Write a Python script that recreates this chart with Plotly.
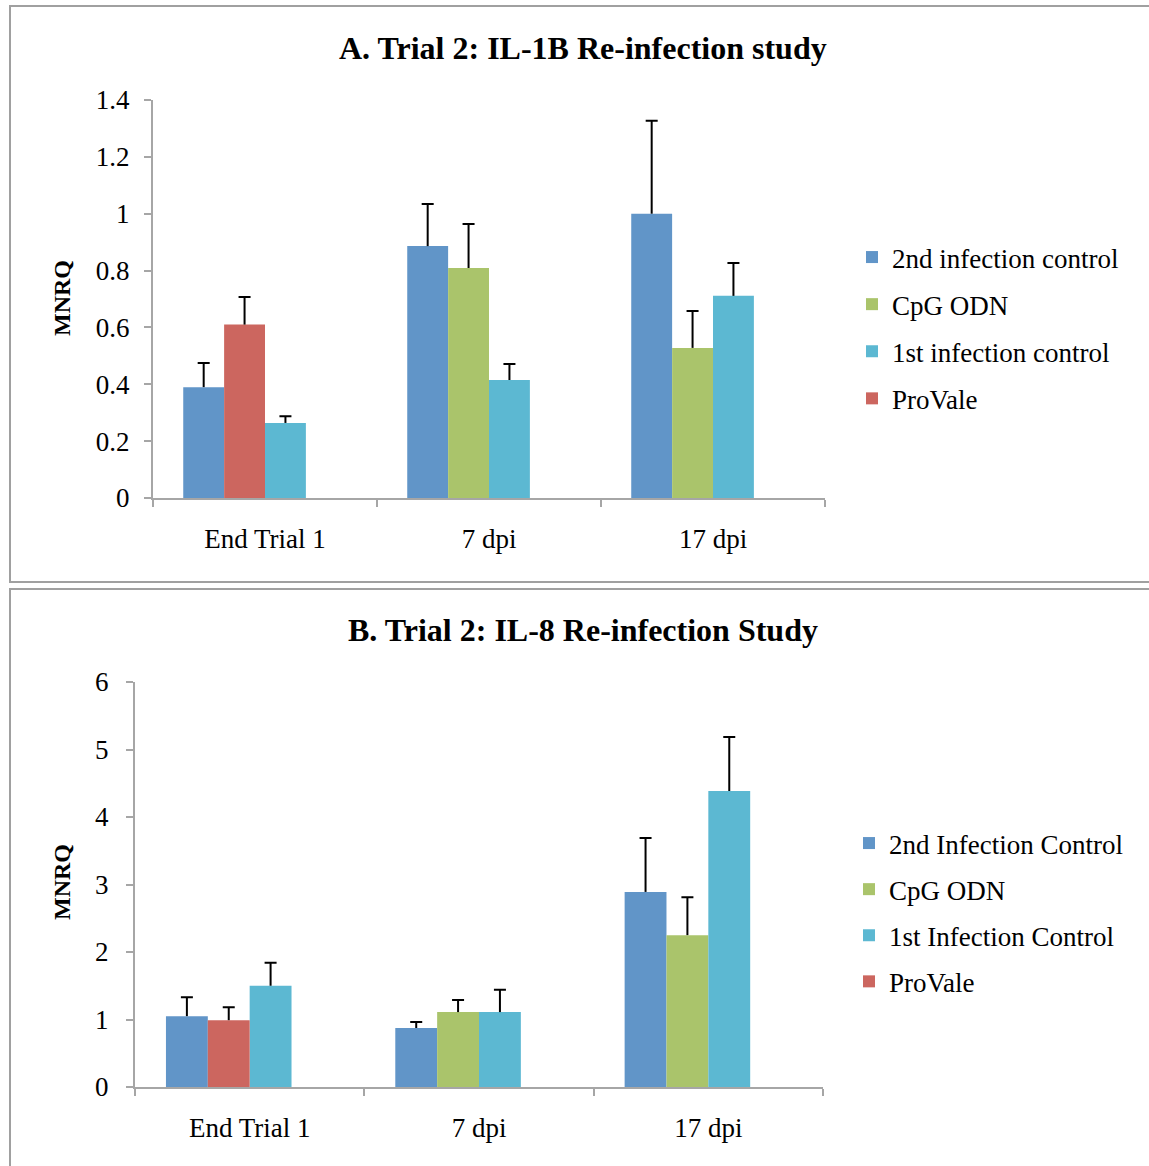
import plotly.graph_objects as go

W, H = 1149, 1166

categories = ["End Trial 1", "7 dpi", "17 dpi"]

# Panel A: IL-1B
a_names = ["2nd infection control", "CpG ODN", "1st infection control", "ProVale"]
a_second = [0.39, 0.886, 1.0]
a_second_err = [0.085, 0.148, 0.327]
a_cpg = [None, 0.809, 0.528]
a_cpg_err = [0, 0.155, 0.13]
a_first = [0.264, 0.415, 0.711]
a_first_err = [0.024, 0.056, 0.116]
a_provale = [0.61, None, None]
a_provale_err = [0.097, 0, 0]

# Panel B: IL-8
b_names = ["2nd Infection Control", "CpG ODN", "1st Infection Control", "ProVale"]
b_second = [1.05, 0.874, 2.89]
b_second_err = [0.28, 0.09, 0.80]
b_cpg = [None, 1.11, 2.25]
b_cpg_err = [0, 0.18, 0.56]
b_first = [1.50, 1.11, 4.385]
b_first_err = [0.34, 0.33, 0.80]
b_provale = [0.99, None, None]
b_provale_err = [0.19, 0, 0]

colors = ["#6195c8", "#aac46b", "#5cb8d2", "#cc665f"]
offsets = ["g1", "g2", "g3", "g2"]

FONT = "Liberation Serif"
GRAY = "#a6a6a6"
TXT = 27

fig = go.Figure()


def add_panel(names, vals, errs, xa, ya, legend):
    for i, (nm, v, e) in enumerate(zip(names, vals, errs)):
        fig.add_trace(go.Bar(
            x=categories, y=v, name=nm, xaxis=xa, yaxis=ya, legend=legend,
            legendgroup=legend + str(i), offsetgroup=offsets[i],
            marker=dict(color=colors[i], line=dict(width=0)),
            error_y=dict(type="data", symmetric=False, array=e,
                         arrayminus=[0] * len(e), width=0, thickness=2,
                         color="black"),
        ))
        tops = [None if a is None else a + b for a, b in zip(v, e)]
        fig.add_trace(go.Bar(
            x=categories, y=tops, xaxis=xa, yaxis=ya, showlegend=False,
            offsetgroup=offsets[i], hoverinfo="skip",
            marker=dict(color="rgba(0,0,0,0)", line=dict(width=0)),
            error_y=dict(type="data", array=[0] * len(e), width=6,
                         thickness=2, color="black"),
        ))
    # empty fourth slot, as in the original chart's layout
    fig.add_trace(go.Bar(
        x=categories, y=[0] * len(categories), xaxis=xa, yaxis=ya,
        showlegend=False, offsetgroup="g4", hoverinfo="skip",
        marker=dict(color="rgba(0,0,0,0)", line=dict(width=0)),
    ))


add_panel(a_names, [a_second, a_cpg, a_first, a_provale],
          [a_second_err, a_cpg_err, a_first_err, a_provale_err], "x", "y", "legend")
add_panel(b_names, [b_second, b_cpg, b_first, b_provale],
          [b_second_err, b_cpg_err, b_first_err, b_provale_err], "x2", "y2", "legend2")


def px_x(p):
    return p / W


def px_y(p):
    return 1 - p / H


axis_common = dict(showline=True, linecolor=GRAY, linewidth=2, ticks="outside",
                   tickcolor=GRAY, tickwidth=2, ticklen=7, showgrid=False,
                   zeroline=False, automargin=False,
                   tickfont=dict(family=FONT, size=TXT, color="black"))

fig.update_layout(
    width=W, height=H, margin=dict(l=0, r=0, t=0, b=0, autoexpand=False),
    paper_bgcolor="white", plot_bgcolor="white",
    barmode="group", bargap=0.27, bargroupgap=0,
    font=dict(family=FONT, color="black"),
    xaxis=dict(domain=[px_x(153), px_x(825)], anchor="y", tickson="boundaries",
               ticklabelstandoff=16, **axis_common),
    yaxis=dict(domain=[px_y(498), px_y(100)], anchor="x", range=[0, 1.4],
               dtick=0.2, ticklabelstandoff=9, **axis_common),
    xaxis2=dict(domain=[px_x(135), px_x(823)], anchor="y2", tickson="boundaries",
                ticklabelstandoff=16, **axis_common),
    yaxis2=dict(domain=[px_y(1087), px_y(682)], anchor="x2", range=[0, 6],
                dtick=1, ticklabelstandoff=12, **axis_common),
    legend=dict(x=px_x(852), y=px_y(233), xanchor="left", yanchor="top",
                font=dict(family=FONT, size=TXT), tracegroupgap=9,
                bgcolor="rgba(0,0,0,0)"),
    legend2=dict(x=px_x(849), y=px_y(819), xanchor="left", yanchor="top",
                 font=dict(family=FONT, size=TXT), tracegroupgap=8,
                 bgcolor="rgba(0,0,0,0)"),
    showlegend=True,
)

fig.add_annotation(text="<b>A. Trial 2: IL-1B Re-infection study</b>", xref="paper",
                   yref="paper", x=px_x(583), y=px_y(48), showarrow=False,
                   xanchor="center", yanchor="middle",
                   font=dict(family=FONT, size=32))
fig.add_annotation(text="<b>B. Trial 2: IL-8 Re-infection Study</b>", xref="paper",
                   yref="paper", x=px_x(583), y=px_y(630), showarrow=False,
                   xanchor="center", yanchor="middle",
                   font=dict(family=FONT, size=32))
fig.add_annotation(text="<b>MNRQ</b>", xref="paper", yref="paper", x=px_x(62),
                   y=px_y(298), showarrow=False, textangle=-90,
                   xanchor="center", yanchor="middle",
                   font=dict(family=FONT, size=24))
fig.add_annotation(text="<b>MNRQ</b>", xref="paper", yref="paper", x=px_x(62),
                   y=px_y(882), showarrow=False, textangle=-90,
                   xanchor="center", yanchor="middle",
                   font=dict(family=FONT, size=24))

fig.add_shape(type="rect", xref="paper", yref="paper", x0=px_x(10), x1=1.01,
              y0=px_y(582), y1=px_y(6), line=dict(color="#a0a0a0", width=2))
fig.add_shape(type="rect", xref="paper", yref="paper", x0=px_x(10), x1=1.01,
              y0=-0.01, y1=px_y(589), line=dict(color="#a0a0a0", width=2))

fig.write_html("out.html")
